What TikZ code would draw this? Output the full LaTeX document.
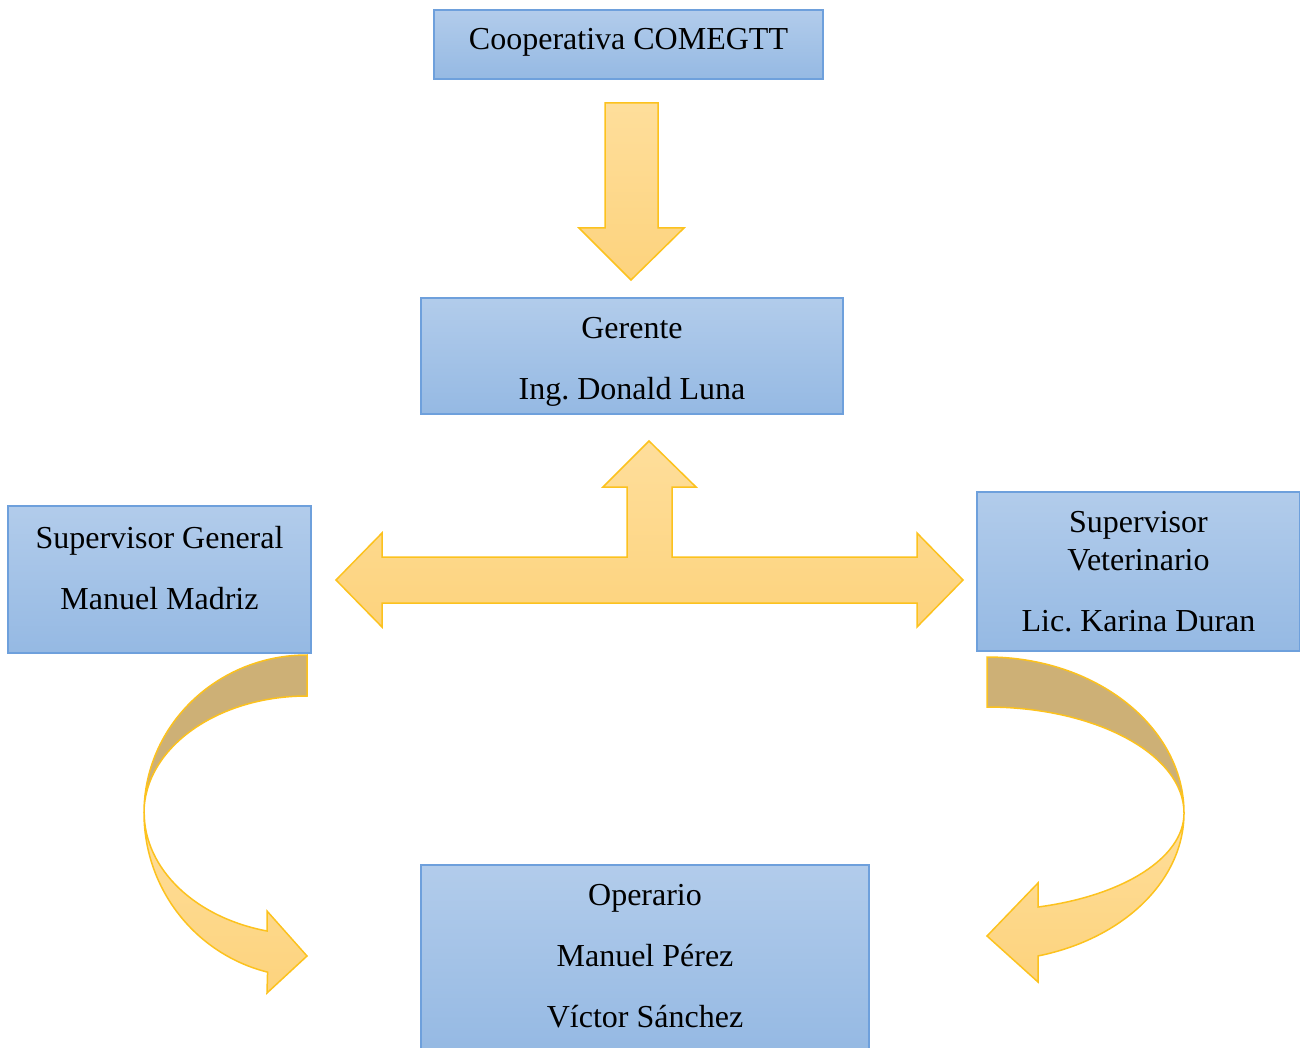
\documentclass[tikz,border=0pt]{standalone}
\usepackage{fontspec}
\setmainfont{Liberation Serif}
\frenchspacing
\definecolor{boxtop}{RGB}{178,204,235}
\definecolor{boxbottom}{RGB}{149,185,227}
\definecolor{boxline}{RGB}{110,160,220}
\definecolor{arrowtop}{RGB}{254,222,155}
\definecolor{arrowbottom}{RGB}{253,211,125}
\definecolor{arrowline}{RGB}{252,194,30}
\definecolor{arrowback}{RGB}{205,176,118}
\begin{document}
\begin{tikzpicture}[x=0.5pt,y=-0.5pt,
    box/.style={draw=boxline,line width=0.75pt,top color=boxtop,bottom color=boxbottom,inner sep=0pt},
    boxtext/.style={align=center,inner sep=0pt,font=\fontsize{16}{19}\selectfont},
    blockarrow/.style={draw=arrowline,line width=0.75pt,top color=arrowtop,bottom color=arrowbottom},
    backside/.style={draw=arrowline,line width=0.75pt,fill=arrowback}]
\def\leftback{(307,655) arc[start angle=-90,end angle=-180,x radius=163,y radius=158]
    arc[start angle=180,end angle=270,x radius=163,y radius=117] -- cycle}
\def\leftfront{(144,813) arc[start angle=180,end angle=104,x radius=163,y radius=164]
    -- (267,993) -- (307,956) -- (267,911) -- (267,931)
    arc[start angle=104,end angle=180,x radius=162,y radius=122] -- cycle}
\def\rightback{(987,657) arc[start angle=-90,end angle=0,x radius=197,y radius=156]
    arc[start angle=0,end angle=-90,x radius=197,y radius=106] -- cycle}
\def\rightfront{(1184,813) arc[start angle=0,end angle=75,x radius=197,y radius=148]
    -- (1038,982) -- (987,936) -- (1038,883) -- (1038,907)
    arc[start angle=75,end angle=0,x radius=197,y radius=97] -- cycle}
\useasboundingbox (0,0) rectangle (1300,1048);
\node[box,minimum width=194.5pt,minimum height=34.5pt] (coop) at (628.5,44.5) {};
\node[box,minimum width=211pt,minimum height=58pt] (gerente) at (632,356) {};
\node[box,minimum width=151.5pt,minimum height=73.5pt] (supgen) at (159.5,579.5) {};
\node[box,minimum width=161.5pt,minimum height=79.5pt] (supvet) at (1138.5,571.5) {};
\node[box,minimum width=224pt,minimum height=93.5pt] (operario) at (645,958.5) {};
\node[boxtext,yshift=1pt] (coop text) at (coop) {Cooperativa COMEGTT};
\node[boxtext,yshift=-3pt] (gerente text) at (gerente) {Gerente\\[11.5pt]Ing. Donald Luna};
\node[boxtext,yshift=5.5pt] (supgen text) at (supgen) {Supervisor General\\[11.5pt]Manuel Madriz};
\node[boxtext] (supvet text) at (supvet) {Supervisor\\Veterinario\\[11.5pt]Lic. Karina Duran};
\node[boxtext,yshift=1pt] (operario text) at (operario) {Operario\\[11.5pt]Manuel P\'erez\\[11.5pt]V\'ictor S\'anchez};
% cooperativa down to gerente
\path[blockarrow] (605,103) -- (658,103) -- (658,228) -- (684,228) -- (631,280) -- (579,228) -- (605,228) -- cycle;
% gerente and both supervisors
\path[blockarrow] (336,580) -- (382,533) -- (382,557) -- (627,557) -- (627,487) -- (603,487) -- (649,441)
  -- (696,487) -- (672,487) -- (672,557) -- (917,557) -- (917,533) -- (963,580) -- (917,627)
  -- (917,603) -- (382,603) -- (382,627) -- cycle;
% supervisors down to operario
\path[backside] \leftback;
\path[blockarrow] \leftfront;
\path[backside] \rightback;
\path[blockarrow] \rightfront;
\end{tikzpicture}
\end{document}
